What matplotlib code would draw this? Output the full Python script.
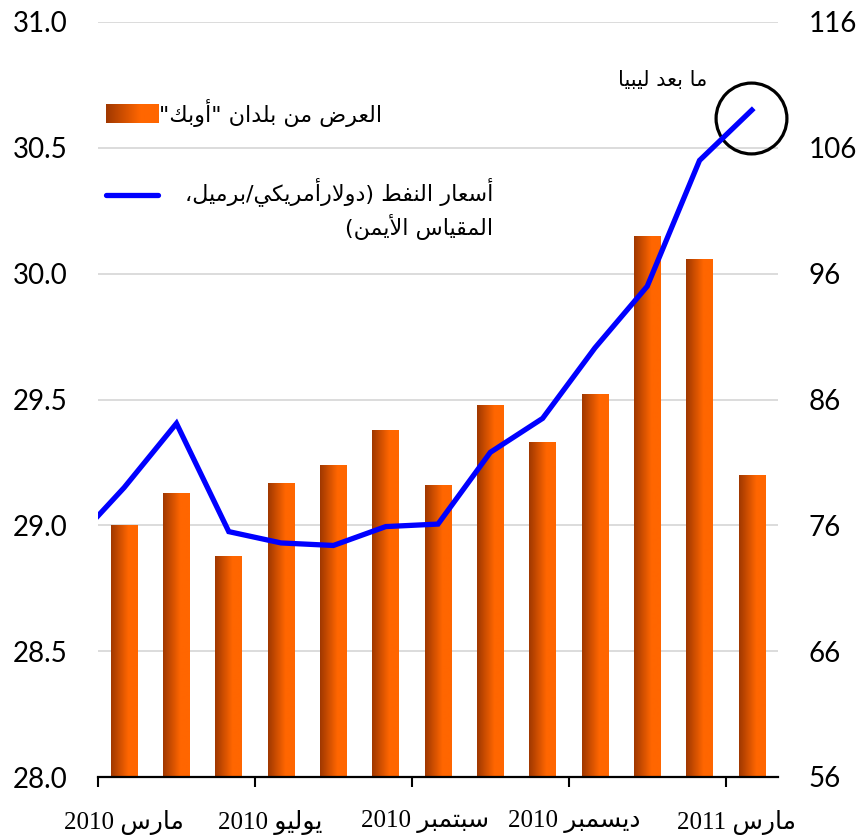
import numpy as np
import matplotlib
matplotlib.use('Agg')
import matplotlib.pyplot as plt
import matplotlib.transforms as mtransforms
from matplotlib.colors import LinearSegmentedColormap
from matplotlib.lines import Line2D

# OPEC supply (left axis) and oil price (right axis), Mar 2010 .. Mar 2011
supply = [29.0, 29.13, 28.88, 29.17, 29.24, 29.38, 29.16, 29.48, 29.33, 29.52, 30.15, 30.06, 29.20]
# price points start one month before the first bar (clipped at the axis edge)
price_x = list(range(-1, 13))
price = [74.5, 79.0, 84.1, 75.5, 74.6, 74.4, 75.9, 76.1, 81.8, 84.5, 90.1, 95.0, 105.0, 109.0]

month_labels = ['مارس 2010', 'يوليو 2010', 'سبتمبر 2010', 'ديسمبر 2010', 'مارس 2011']
label_pos = [0.0, 2.8, 5.75, 8.6, 11.7]
left_ticks = [28.0, 28.5, 29.0, 29.5, 30.0, 30.5, 31.0]
right_ticks = [56, 66, 76, 86, 96, 106, 116]

legend_bar = 'العرض من بلدان "أوبك"'
legend_line = ['أسعار النفط (دولارأمريكي/برميل،', 'المقياس الأيمن)']
note = 'ما بعد ليبيا'

# --- minimal arabic shaping + bidi (matplotlib 3.10 has no text shaping) ---
FORMS = {
    '\u0627': ('\uFE8D', '\uFE8E', None, None),
    '\u0623': ('\uFE83', '\uFE84', None, None),
    '\u0628': ('\uFE8F', '\uFE90', '\uFE91', '\uFE92'),
    '\u062A': ('\uFE95', '\uFE96', '\uFE97', '\uFE98'),
    '\u062F': ('\uFEA9', '\uFEAA', None, None),
    '\u0631': ('\uFEAD', '\uFEAE', None, None),
    '\u0633': ('\uFEB1', '\uFEB2', '\uFEB3', '\uFEB4'),
    '\u0636': ('\uFEBD', '\uFEBE', '\uFEBF', '\uFEC0'),
    '\u0637': ('\uFEC1', '\uFEC2', '\uFEC3', '\uFEC4'),
    '\u0639': ('\uFEC9', '\uFECA', '\uFECB', '\uFECC'),
    '\u0641': ('\uFED1', '\uFED2', '\uFED3', '\uFED4'),
    '\u0642': ('\uFED5', '\uFED6', '\uFED7', '\uFED8'),
    '\u0643': ('\uFED9', '\uFEDA', '\uFEDB', '\uFEDC'),
    '\u0644': ('\uFEDD', '\uFEDE', '\uFEDF', '\uFEE0'),
    '\u0645': ('\uFEE1', '\uFEE2', '\uFEE3', '\uFEE4'),
    '\u0646': ('\uFEE5', '\uFEE6', '\uFEE7', '\uFEE8'),
    '\u0648': ('\uFEED', '\uFEEE', None, None),
    '\u064A': ('\uFEF1', '\uFEF2', '\uFEF3', '\uFEF4'),
    'LA': ('\uFEFB', '\uFEFC', None, None),
    'LAH': ('\uFEF7', '\uFEF8', None, None),
}
MIRROR = {'(': ')', ')': '('}


def ar(s):
    toks, i = [], 0
    while i < len(s):
        if s[i] == '\u0644' and i + 1 < len(s) and s[i + 1] in ('\u0627', '\u0623'):
            toks.append('LA' if s[i + 1] == '\u0627' else 'LAH')
            i += 2
        else:
            toks.append(s[i])
            i += 1
    shaped = []
    for j, t in enumerate(toks):
        if t not in FORMS:
            shaped.append(t)
            continue
        f = FORMS[t]
        prev = toks[j - 1] if j > 0 else None
        nxt = toks[j + 1] if j + 1 < len(toks) else None
        jp = prev in FORMS and FORMS[prev][2] is not None
        jn = f[2] is not None and nxt in FORMS
        shaped.append(f[3] if jp and jn else f[1] if jp else f[2] if jn else f[0])
    # split into ltr (ascii digits/letters) and rtl runs, then reverse
    runs = []
    for c in shaped:
        ltr = c.isascii() and c.isalnum()
        if runs and runs[-1][0] == ltr:
            runs[-1][1].append(c)
        else:
            runs.append([ltr, [c]])
    out = ''
    for ltr, chars in reversed(runs):
        out += ''.join(chars) if ltr else ''.join(MIRROR.get(c, c) for c in reversed(chars))
    return out


W, H = 859, 839
fig = plt.figure(figsize=(W / 100, H / 100), dpi=100)
ax = fig.add_axes([98 / W, 62 / H, 680 / W, 755 / H])

x = np.arange(len(supply))
bars = ax.bar(x, [v - 28.0 for v in supply], bottom=28.0, width=0.51, color='#ff6600', zorder=2)

grad_cmap = LinearSegmentedColormap.from_list('bar', [(0, '#a03800'), (0.65, '#ff6600'), (1, '#ff6600')])
grad = np.linspace(0, 1, 64).reshape(1, -1)
for rect in bars:
    x0, y0, w, h = rect.get_x(), rect.get_y(), rect.get_width(), rect.get_height()
    im = ax.imshow(grad, extent=[x0, x0 + w, y0, y0 + h], aspect='auto', cmap=grad_cmap,
                   interpolation='bilinear', zorder=3)
    im.set_clip_path(rect)

ax.set_xlim(-0.5, len(supply) - 0.5)
ax.set_ylim(28.0, 31.0)
ax.set_yticks(left_ticks)
ax.set_yticklabels([f'{v:.1f}' for v in left_ticks], fontsize=20, family=['Lato', 'DejaVu Sans'])
ax.yaxis.grid(True, color='#d9d9d9', lw=1.3, zorder=0)
ax.set_axisbelow(True)
ax.tick_params(axis='y', length=0, pad=22)

ax.set_xticks([-0.5, 2.5, 5.5, 8.5, 11.5])
ax.set_xticklabels([])
ax.tick_params(axis='x', which='major', length=7, width=1.5, color='black')
ax.set_xticks(label_pos, minor=True)
ax.set_xticklabels([ar(s) for s in month_labels], minor=True, fontsize=18,
                   family=['Liberation Serif', 'DejaVu Sans'])
ax.tick_params(axis='x', which='minor', length=0, pad=24)

for side in ('left', 'right', 'top'):
    ax.spines[side].set_visible(False)
ax.spines['bottom'].set_linewidth(1.6)
ax.spines['bottom'].set_zorder(5)

ax2 = ax.twinx()
ax2.plot(price_x, price, color='#0000ff', lw=3.8, solid_joinstyle='miter', zorder=4)
ax2.set_ylim(56, 116)
ax2.set_yticks(right_ticks)
ax2.set_yticklabels([str(v) for v in right_ticks], fontsize=20, family=['Lato', 'DejaVu Sans'])
ax2.tick_params(axis='y', length=0, pad=22)
for side in ('left', 'right', 'top', 'bottom'):
    ax2.spines[side].set_visible(False)

# circle + note around the last price point
circ_tr = mtransforms.offset_copy(ax2.transData, fig=fig, x=-1, y=-8, units='dots')
ax2.plot([price_x[-1]], [price[-1]], marker='o', ms=51, mfc='none', mec='black', mew=2.3,
         transform=circ_tr, clip_on=False)
ax2.annotate(ar(note), xy=(price_x[-1], price[-1]), xytext=(-64, 22), textcoords='offset points',
             ha='center', va='center', fontsize=15, family=['DejaVu Sans'])

# legend drawn by hand
lax = fig.add_axes([106 / W, 1 - 123 / H, 53 / W, 19 / H])
lax.imshow(grad, aspect='auto', cmap=grad_cmap, interpolation='bilinear')
lax.axis('off')
fig.text(382 / W, 1 - 113 / H, ar(legend_bar), ha='right', va='center', fontsize=16,
         family=['DejaVu Sans'])
fig.add_artist(Line2D([106 / W, 158 / W], [1 - 195 / H, 1 - 195 / H], transform=fig.transFigure,
                      color='#0000ff', lw=3.8, solid_capstyle='round'))
fig.text(493 / W, 1 - 192 / H, ar(legend_line[0]), ha='right', va='center', fontsize=16,
         family=['DejaVu Sans'])
fig.text(493 / W, 1 - 227 / H, ar(legend_line[1]), ha='right', va='center', fontsize=16,
         family=['DejaVu Sans'])

fig.savefig('out.png', dpi=100)
